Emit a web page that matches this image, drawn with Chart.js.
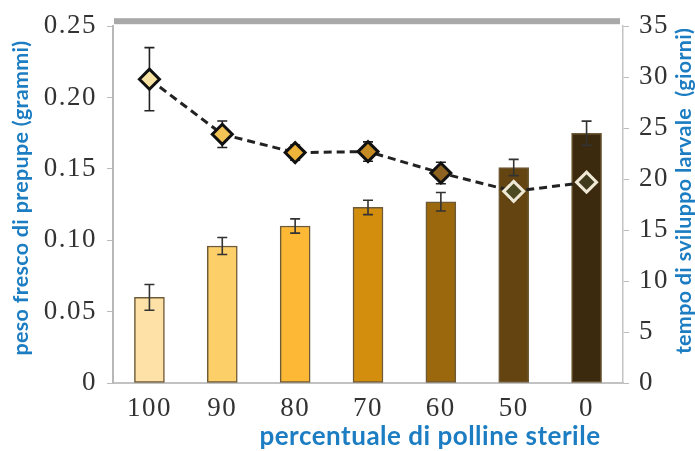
<!DOCTYPE html>
<html>
<head>
<meta charset="utf-8">
<script src="https://cdn.jsdelivr.net/npm/chart.js@4/dist/chart.umd.min.js"></script>
<style>
  html, body { margin: 0; padding: 0; background: #fff; }
  #wrap { width: 695px; height: 451px; }
</style>
</head>
<body>
<div id="wrap"><canvas id="chart" width="695" height="451"></canvas></div>
<script>
// data
const categories = ['100', '90', '80', '70', '60', '50', '0'];
const pesoValues = [0.060, 0.096, 0.110, 0.123, 0.127, 0.151, 0.175];
const pesoErrors = [0.009, 0.006, 0.005, 0.005, 0.0065, 0.0057, 0.0085];
const tempoValues = [29.8, 24.4, 22.6, 22.7, 20.6, 18.8, 19.7];
const tempoErrors = [3.1, 1.3, 0.75, 0.95, 1.05, 0.8, 0];

const barColors = ['#fde1a6', '#fdcf68', '#fdb935', '#d48e0e', '#9b680e', '#644410', '#3b2a0e'];
const markerFill = ['#f7e2a4', '#f2c455', '#eeb43a', '#c48c22', '#8e6220', '#4c4a22', '#3f3a1c'];
const markerBorder = ['#111', '#111', '#111', '#111', '#111', '#eee8d4', '#eee8d4'];

const blue = '#1d7dc2';
const tickFont = { family: 'Liberation Serif', size: 27 };

// the reference uses wide numerals, a little letter spacing gets close
const spacing = {
  id: 'spacing',
  beforeDraw(chart) { chart.ctx.letterSpacing = '1.5px'; }
};

// error bars drawn through the chart's own scales
const errorBars = {
  id: 'errorBars',
  afterDatasetDraw(chart, args) {
    if (args.index !== 0) return;
    drawErrors(chart, args.meta, pesoValues, pesoErrors, chart.scales.y, '#333');
  },
  beforeDatasetDraw(chart, args) {
    if (args.index !== 1) return;
    drawErrors(chart, args.meta, tempoValues, tempoErrors, chart.scales.y1, '#222');
  }
};

function drawErrors(chart, meta, values, errors, scale, color) {
  const ctx = chart.ctx;
  ctx.save();
  ctx.strokeStyle = color;
  ctx.lineWidth = 1.6;
  meta.data.forEach((el, i) => {
    if (!errors[i]) return;
    const x = el.x;
    const yTop = scale.getPixelForValue(values[i] + errors[i]);
    const yBot = scale.getPixelForValue(values[i] - errors[i]);
    ctx.beginPath();
    ctx.moveTo(x, yTop); ctx.lineTo(x, yBot);
    ctx.moveTo(x - 5, yTop); ctx.lineTo(x + 5, yTop);
    ctx.moveTo(x - 5, yBot); ctx.lineTo(x + 5, yBot);
    ctx.stroke();
  });
  ctx.restore();
}

// grey band above the plot + axis titles
const decorations = {
  id: 'decorations',
  afterDraw(chart) {
    const ctx = chart.ctx;
    const a = chart.chartArea;
    ctx.save();
    ctx.fillStyle = '#a9a9a9';
    ctx.fillRect(a.left + 1, a.top - 8, a.right - a.left - 4, 6);

    ctx.fillStyle = blue;
    ctx.letterSpacing = '0.3px';
    ctx.font = 'bold 21.5px Lato';
    ctx.textAlign = 'center';
    ctx.textBaseline = 'middle';

    ctx.save();
    ctx.translate(21, 198);
    ctx.rotate(-Math.PI / 2);
    ctx.fillText('peso fresco di prepupe (grammi)', 0, 0);
    ctx.restore();

    ctx.save();
    ctx.translate(684, 191);
    ctx.rotate(-Math.PI / 2);
    ctx.fillText('tempo di sviluppo larvale  (giorni)', 0, 0);
    ctx.restore();

    ctx.letterSpacing = '0.5px';
    ctx.font = 'bold 26px Lato';
    ctx.fillText('percentuale di polline sterile', 430, 437);
    ctx.restore();
  }
};

new Chart(document.getElementById('chart'), {
  data: {
    labels: categories,
    datasets: [
      {
        type: 'bar',
        data: pesoValues,
        yAxisID: 'y',
        order: 1,
        backgroundColor: barColors,
        borderColor: '#6e5a36',
        borderWidth: 1.5,
        borderSkipped: false,
        barThickness: 30
      },
      {
        type: 'line',
        data: tempoValues,
        yAxisID: 'y1',
        order: 0,
        borderColor: '#222',
        borderWidth: 3,
        borderDash: [8, 5],
        tension: 0,
        fill: false,
        pointStyle: 'rectRot',
        pointRadius: 10,
        pointBorderWidth: 3,
        pointBackgroundColor: markerFill,
        pointBorderColor: markerBorder
      }
    ]
  },
  options: {
    responsive: false,
    devicePixelRatio: 1,
    animation: false,
    layout: { padding: { top: 23, left: 0, right: 0, bottom: 0 } },
    plugins: {
      legend: { display: false },
      tooltip: { enabled: false }
    },
    scales: {
      x: {
        offset: true,
        grid: { display: false, drawTicks: false },
        border: { display: true, color: '#c2c2c2', width: 2 },
        ticks: { font: tickFont, color: '#333', padding: 10, maxRotation: 0 },
        afterFit(scale) { scale.height = 68; }
      },
      y: {
        position: 'left',
        min: 0,
        max: 0.25,
        grid: { drawOnChartArea: false, drawTicks: true, tickLength: 6, color: '#bbb' },
        border: { display: true, color: '#b8b8b8', width: 2 },
        ticks: {
          stepSize: 0.05,
          font: tickFont,
          color: '#333',
          padding: 10,
          callback: v => (v === 0 ? '0' : v.toFixed(2))
        },
        afterFit(scale) { scale.width = 113; }
      },
      y1: {
        position: 'right',
        min: 0,
        max: 35,
        grid: { drawOnChartArea: false, drawTicks: true, tickLength: 6, color: '#bbb' },
        border: { display: true, color: '#c4c4c4', width: 1.5 },
        ticks: { stepSize: 5, font: tickFont, color: '#333', padding: 10 },
        afterFit(scale) { scale.width = 72; }
      }
    }
  },
  plugins: [spacing, errorBars, decorations]
});
</script>
</body>
</html>
